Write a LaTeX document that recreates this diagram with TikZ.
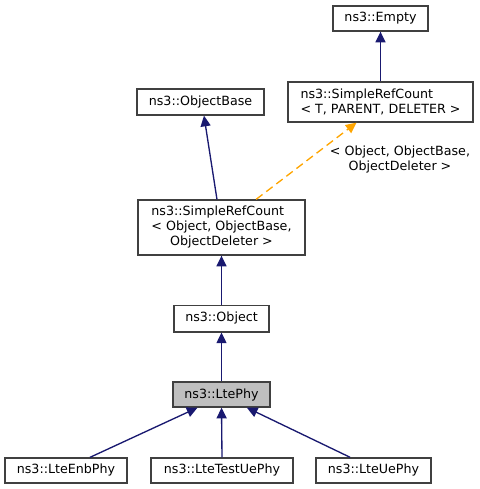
\documentclass[tikz,border=0pt]{standalone}
\usepackage{fontspec}
\setmainfont{DejaVu Sans}
\usepackage{calc}
\usetikzlibrary{arrows.meta}

\definecolor{edgeblue}{RGB}{25,25,112}
\definecolor{tplorange}{RGB}{255,165,0}
\definecolor{boxgray}{RGB}{191,191,191}
\definecolor{bordergray}{RGB}{64,64,64}

\tikzset{every picture/.style={line width=0.75pt}}
\tikzset{
	cls/.style={draw=bordergray, line width=1pt, inner sep=0pt, align=center,
		font=\fontsize{9.5}{11.25}\selectfont, minimum height=18.75pt},
	inherit/.style={draw=edgeblue, line width=1pt,
		-{Triangle[length=8pt,width=7.5pt,fill=edgeblue]}},
	tplinst/.style={draw=tplorange, line width=1pt, dash pattern=on 6pt off 3.5pt,
		-{Triangle[length=8pt,width=7.5pt,fill=tplorange]}}
}

\begin{document}
\begin{tikzpicture}[x=0.75pt,y=0.75pt,yscale=-1,xscale=1]
	\useasboundingbox (0,0) rectangle (479,489);

	%Shape: Rectangle [ns3::Empty]
	\node [cls, minimum width=71.25pt] (empty) at (380.5,18.5) {ns3::Empty};
	%Shape: Rectangle [SimpleRefCount T]
	\node [cls, minimum width=138.75pt, minimum height=30pt] (srcT) at (380.5,102)
		{\makebox[\widthof{< T, PARENT, DELETER >}][l]{ns3::SimpleRefCount}\\< T, PARENT, DELETER >};
	%Shape: Rectangle [ns3::ObjectBase]
	\node [cls, minimum width=95.25pt, minimum height=19.5pt] (objbase) at (200.5,102) {ns3::ObjectBase};
	%Shape: Rectangle [SimpleRefCount Object]
	\node [cls, minimum width=125.25pt, minimum height=41.25pt] (srcO) at (221.5,227.5)
		{\makebox[\widthof{< Object, ObjectBase,}][l]{ns3::SimpleRefCount}\\< Object, ObjectBase,\\ObjectDeleter >};
	%Shape: Rectangle [ns3::Object]
	\node [cls, minimum width=71.25pt, minimum height=20pt] (object) at (221.5,318.5) {ns3::Object};
	%Shape: Rectangle [ns3::LtePhy]
	\node [cls, fill=boxgray, minimum width=72.75pt] (ltephy) at (221.5,394.5) {ns3::LtePhy};
	%Shape: Rectangle [children]
	\node [cls, minimum width=91.5pt] (enbphy) at (66,470.5) {ns3::LteEnbPhy};
	\node [cls, minimum width=106.5pt] (testuephy) at (222,470.5) {ns3::LteTestUePhy};
	\node [cls, minimum width=86.25pt] (uephy) at (373.5,470.5) {ns3::LteUePhy};

	%Connectors
	\draw [inherit] (srcT) -- (empty);
	\draw [inherit] ([xshift=-3.4pt]srcO.north) -- ([xshift=2.6pt]objbase.south);
	\draw [tplinst] ([xshift=26pt]srcO.north) -- ([xshift=-18pt]srcT.south);
	\draw [inherit] (object) -- (srcO);
	\draw [inherit] (ltephy) -- (object);
	\draw [inherit] ([xshift=18pt]enbphy.north) -- ([xshift=-18pt]ltephy.south);
	\draw [inherit] (testuephy.north) -- (ltephy.south);
	\draw [inherit] ([xshift=-17.5pt]uephy.north) -- ([xshift=19pt]ltephy.south);

	% Text Node
	\node [align=center, font=\fontsize{9.5}{11.25}\selectfont] (tpllabel) at (400,160) {< Object, ObjectBase,\\ObjectDeleter >};

\end{tikzpicture}
\end{document}
